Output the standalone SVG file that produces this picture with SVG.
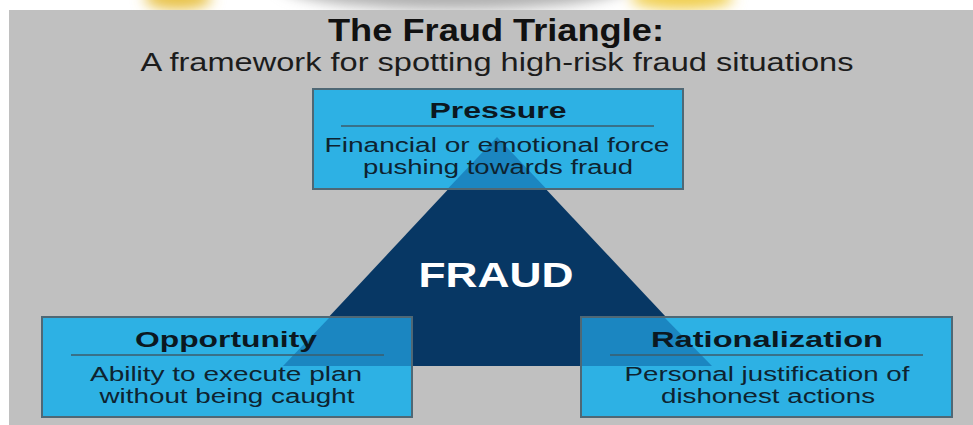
<svg xmlns="http://www.w3.org/2000/svg" width="973" height="425" viewBox="0 0 973 425">
  <defs>
    <style>
      .panel{fill:#c0c0c0}
      .box{fill:#2db1e4;stroke:#4f6875;stroke-width:2}
      .tint{fill:#1b86c1}
      .rule{stroke:#3c5c6b;stroke-width:1.6}
      .sans{font-family:"Liberation Sans",Arial,Helvetica,sans-serif}
      .narrow{font-family:"Liberation Sans Narrow","Arial Narrow","Liberation Sans",Arial,sans-serif}
      .title{font-weight:bold;font-size:32px;fill:#111;text-anchor:middle}
      .subtitle{font-size:26px;fill:#1c1c1c;text-anchor:middle}
      .head{font-weight:bold;font-size:22px;fill:#0b1821;text-anchor:middle}
      .body{font-size:19.5px;fill:#0e2330;text-anchor:middle}
      .core{font-weight:bold;font-size:35px;fill:#ffffff;text-anchor:middle}
    </style>
    <filter id="soft" x="-50%" y="-50%" width="200%" height="200%">
      <feGaussianBlur stdDeviation="7"/>
    </filter>
    <clipPath id="strip">
      <rect x="0" y="0" width="973" height="10"/>
    </clipPath>
  </defs>

  <!-- page and backdrop -->
  <rect x="0" y="0" width="973" height="425" fill="#ffffff"/>
  <g clip-path="url(#strip)">
    <g filter="url(#soft)">
      <ellipse cx="178" cy="-2" rx="34" ry="12" fill="#e8c24a"/>
      <ellipse cx="455" cy="-16" rx="175" ry="26" fill="#b0b0b0"/>
      <ellipse cx="682" cy="-2" rx="52" ry="12" fill="#f0cf50"/>
    </g>
  </g>
  <rect class="panel" x="9" y="10" width="964" height="415"/>

  <!-- heading -->
  <text class="narrow title" x="496" y="41" textLength="336" lengthAdjust="spacingAndGlyphs">The Fraud Triangle:</text>
  <text class="narrow subtitle" x="497" y="71" textLength="713" lengthAdjust="spacingAndGlyphs">A framework for spotting high-risk fraud situations</text>

  <!-- central triangle -->
  <g id="fraud">
    <polygon points="497,137 712,366 283,366" fill="#073764"/>
    <text class="sans core" x="496" y="287" textLength="155" lengthAdjust="spacingAndGlyphs">FRAUD</text>
  </g>

  <!-- top corner -->
  <g id="pressure">
    <rect class="box" x="313" y="89" width="370" height="100"/>
    <polygon class="tint" points="497,137 545.5,188 448.5,188"/>
    <text class="sans head" x="498" y="118" textLength="137" lengthAdjust="spacingAndGlyphs">Pressure</text>
    <line class="rule" x1="341" y1="126" x2="654" y2="126"/>
    <text class="sans body" x="497" y="152" textLength="345" lengthAdjust="spacingAndGlyphs">Financial or emotional force</text>
    <text class="sans body" x="498" y="174" textLength="270" lengthAdjust="spacingAndGlyphs">pushing towards fraud</text>
  </g>

  <!-- lower left corner -->
  <g id="opportunity">
    <rect class="box" x="42" y="317" width="370" height="100"/>
    <polygon class="tint" points="329,318 411,318 411,366 283,366"/>
    <text class="sans head" x="226" y="347" textLength="182" lengthAdjust="spacingAndGlyphs">Opportunity</text>
    <line class="rule" x1="71" y1="355" x2="384" y2="355"/>
    <text class="sans body" x="226" y="381" textLength="272" lengthAdjust="spacingAndGlyphs">Ability to execute plan</text>
    <text class="sans body" x="227" y="403" textLength="255" lengthAdjust="spacingAndGlyphs">without being caught</text>
  </g>

  <!-- lower right corner -->
  <g id="rationalization">
    <rect class="box" x="581" y="317" width="371" height="100"/>
    <polygon class="tint" points="665,318 582,318 582,366 712,366"/>
    <text class="sans head" x="767" y="347" textLength="232" lengthAdjust="spacingAndGlyphs">Rationalization</text>
    <line class="rule" x1="610" y1="355" x2="923" y2="355"/>
    <text class="sans body" x="767" y="381" textLength="285" lengthAdjust="spacingAndGlyphs">Personal justification of</text>
    <text class="sans body" x="768" y="403" textLength="214" lengthAdjust="spacingAndGlyphs">dishonest actions</text>
  </g>
</svg>
